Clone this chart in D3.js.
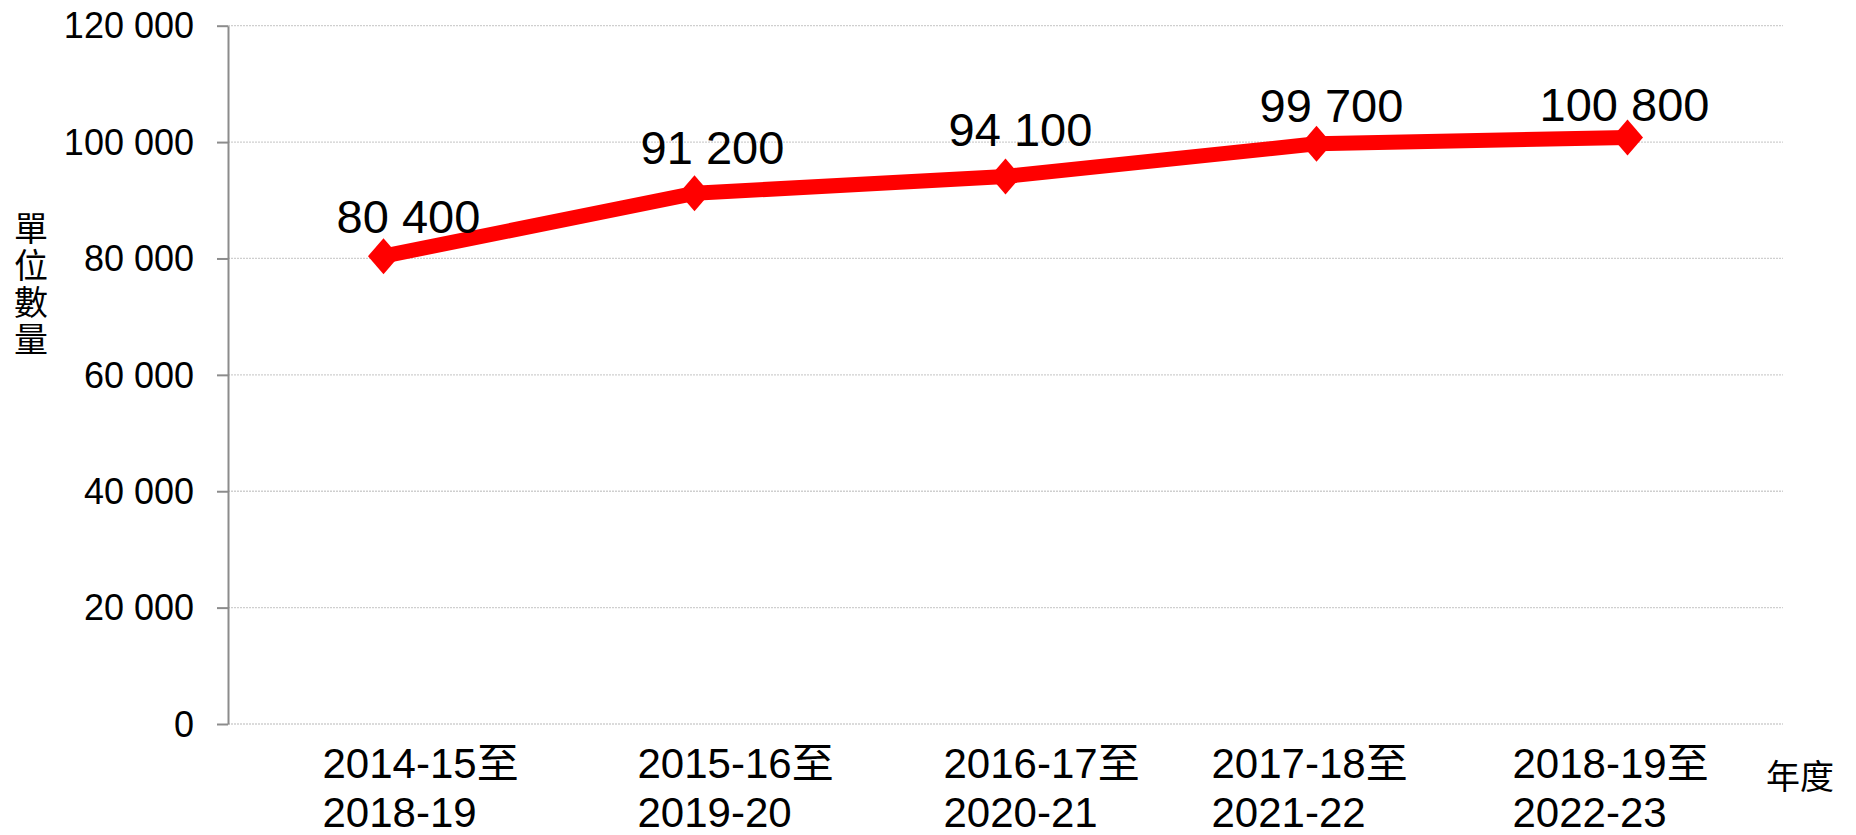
<!DOCTYPE html>
<html>
<head>
<meta charset="utf-8">
<script src="https://cdn.jsdelivr.net/npm/d3@7"></script>
<style>
  html, body { margin: 0; padding: 0; background: #ffffff; }
  svg { display: block; }
  text { font-family: "Liberation Sans", Arial, "Noto Sans CJK TC", sans-serif; fill: #000; }
  .cjk { font-family: "Noto Sans CJK TC", sans-serif; }
</style>
</head>
<body>
<svg></svg>
<script>
// data
const periodsTop = ['2014-15至', '2015-16至', '2016-17至', '2017-18至', '2018-19至'];
const periodsBottom = ['2018-19', '2019-20', '2020-21', '2021-22', '2022-23'];
const units = [80400, 91200, 94100, 99700, 100800];
const yTicks = [0, 20000, 40000, 60000, 80000, 100000, 120000];
const yTitle = '單位數量';
const xTitle = '年度';

// label nudges (the source chart had hand-placed labels)
const valueNudge = [[25, -23], [18, -29], [15, -30], [15, -22], [-3, -16]];
const periodShift = [-61, -57, -62, -105, -115];

const width = 1856;
const height = 835;
const plotLeft = 228;
const plotRight = 1783;
const plotTop = 25.7;
const plotBottom = 724;

const fmt = d3.formatLocale({ decimal: '.', thousands: ' ', grouping: [3], currency: ['', ''] }).format(',');

const svg = d3.select('svg')
  .attr('width', width)
  .attr('height', height);

const x = d3.scaleBand()
  .domain(periodsTop)
  .range([plotLeft, plotRight]);

const y = d3.scaleLinear()
  .domain([0, 120000])
  .range([plotBottom, plotTop]);

const cx = (i) => x(periodsTop[i]) + x.bandwidth() / 2;

// grid lines
svg.append('g')
  .selectAll('line')
  .data(yTicks)
  .enter()
  .append('line')
    .attr('x1', plotLeft)
    .attr('x2', plotRight)
    .attr('y1', (d) => y(d))
    .attr('y2', (d) => y(d))
    .attr('stroke', '#cfcfcf')
    .attr('stroke-width', 1.3)
    .attr('stroke-dasharray', '2 1');

// y axis
const yAxis = svg.append('g')
  .attr('transform', `translate(${plotLeft},0)`)
  .call(d3.axisLeft(y)
    .tickValues(yTicks)
    .tickSize(11)
    .tickSizeOuter(0)
    .tickPadding(23)
    .tickFormat(fmt));

yAxis.attr('font-family', null).attr('font-size', null);
yAxis.select('.domain')
  .attr('stroke', '#8c8c8c')
  .attr('stroke-width', 2);
yAxis.selectAll('.tick line')
  .attr('stroke', '#8c8c8c')
  .attr('stroke-width', 2);
yAxis.selectAll('.tick text')
  .style('font-size', '36px')
  .attr('fill', '#000')
  .attr('dy', '0.34em');

// the line
const line = d3.line()
  .x((d, i) => cx(i))
  .y((d) => y(d));

svg.append('path')
  .datum(units)
  .attr('fill', 'none')
  .attr('stroke', '#ff0000')
  .attr('stroke-width', 15)
  .attr('stroke-linejoin', 'round')
  .attr('d', line);

// diamond markers
svg.append('g')
  .selectAll('path')
  .data(units)
  .enter()
  .append('path')
    .attr('transform', (d, i) => `translate(${cx(i)},${y(d)})`)
    .attr('d', 'M0,-18L15.5,0L0,18L-15.5,0Z')
    .attr('fill', '#ff0000');

// value labels
svg.append('g')
  .selectAll('text')
  .data(units)
  .enter()
  .append('text')
    .attr('x', (d, i) => cx(i) + valueNudge[i][0])
    .attr('y', (d, i) => y(d) + valueNudge[i][1])
    .attr('text-anchor', 'middle')
    .style('font-size', '47px')
    .text((d) => fmt(d));

// category labels, two lines each
const cat = svg.append('g')
  .selectAll('text')
  .data(periodsTop)
  .enter()
  .append('text')
    .style('font-size', '42px');

cat.append('tspan')
  .attr('x', (d, i) => cx(i) + periodShift[i])
  .attr('y', 778)
  .text((d) => d);

cat.append('tspan')
  .attr('x', (d, i) => cx(i) + periodShift[i])
  .attr('y', 827)
  .text((d, i) => periodsBottom[i]);

// axis titles
svg.append('text')
  .attr('class', 'cjk')
  .attr('x', 31)
  .attr('y', 211)
  .style('font-size', '34px')
  .style('writing-mode', 'vertical-rl')
  .style('text-orientation', 'upright')
  .style('letter-spacing', '3px')
  .text(yTitle);

svg.append('text')
  .attr('class', 'cjk')
  .attr('x', 1766)
  .attr('y', 789)
  .style('font-size', '34px')
  .text(xTitle);
</script>
</body>
</html>
